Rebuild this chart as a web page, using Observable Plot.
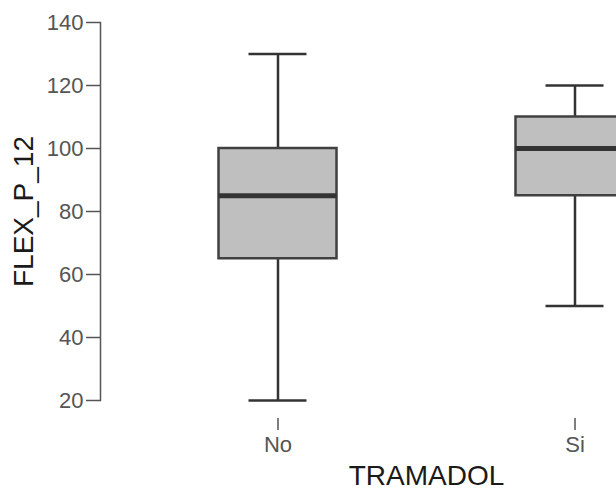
<!DOCTYPE html>
<html>
<head>
<meta charset="utf-8">
<script src="https://cdn.jsdelivr.net/npm/d3@7"></script>
<script src="https://cdn.jsdelivr.net/npm/@observablehq/plot@0.6"></script>
<style>
  html, body { margin: 0; padding: 0; background: #fff; }
  #chart { width: 616px; height: 491px; overflow: hidden; }
</style>
</head>
<body>
<div id="chart"></div>
<script>
const categories = ["No", "Si"];
const whiskerLow = [20, 50];
const q1 = [65, 85];
const median = [85, 100];
const q3 = [100, 110];
const whiskerHigh = [130, 120];
const yTicks = [20, 40, 60, 80, 100, 120, 140];
const xTitle = "TRAMADOL";
const yTitle = "FLEX_P_12";

const rows = categories.map((c, i) => ({
  cat: c, lo: whiskerLow[i], q1: q1[i], med: median[i], q3: q3[i], hi: whiskerHigh[i]
}));

const W = 616, H = 491;
const plot = Plot.plot({
  width: W,
  height: H,
  marginLeft: 100,
  marginRight: -136,
  marginTop: 22,
  marginBottom: 91,
  style: { fontFamily: "Liberation Sans, Arial, sans-serif", background: "#fff", overflow: "hidden" },
  x: { type: "band", domain: categories, paddingInner: 0, paddingOuter: 0.094 },
  y: { domain: [20, 140] },
  marks: [
    Plot.frame({ anchor: "left", stroke: "#555", strokeWidth: 1.5 }),
    Plot.axisY({ ticks: yTicks, tickSize: 14, tickPadding: 3, fontSize: 22, color: "#555", strokeWidth: 1.5, label: null }),
    Plot.axisX({ tickSize: 12, tickPadding: 6, fontSize: 22, color: "#555", strokeWidth: 1.5, dy: 18, label: null }),
    Plot.ruleX(rows, { x: "cat", y1: "lo", y2: "hi", stroke: "#333", strokeWidth: 2.5 }),
    Plot.tickY(rows, { x: "cat", y: "lo", insetLeft: 119.5, insetRight: 119.5, stroke: "#333", strokeWidth: 2.5 }),
    Plot.tickY(rows, { x: "cat", y: "hi", insetLeft: 119.5, insetRight: 119.5, stroke: "#333", strokeWidth: 2.5 }),
    Plot.barY(rows, { x: "cat", y1: "q1", y2: "q3", insetLeft: 89.5, insetRight: 89.5, fill: "#bfbfbf", stroke: "#404040", strokeWidth: 2.5 }),
    Plot.tickY(rows, { x: "cat", y: "med", insetLeft: 89.5, insetRight: 89.5, stroke: "#333", strokeWidth: 5 }),
    Plot.text([xTitle], { text: d => d, frameAnchor: "bottom", textAnchor: "middle", lineAnchor: "middle", dy: 76, fontSize: 28, fill: "#1a1a1a" }),
    Plot.text([yTitle], { text: d => d, frameAnchor: "left", textAnchor: "middle", rotate: -90, lineAnchor: "middle", dx: -76, fontSize: 28, fill: "#1a1a1a" })
  ]
});
document.getElementById("chart").appendChild(plot);
</script>
</body>
</html>
